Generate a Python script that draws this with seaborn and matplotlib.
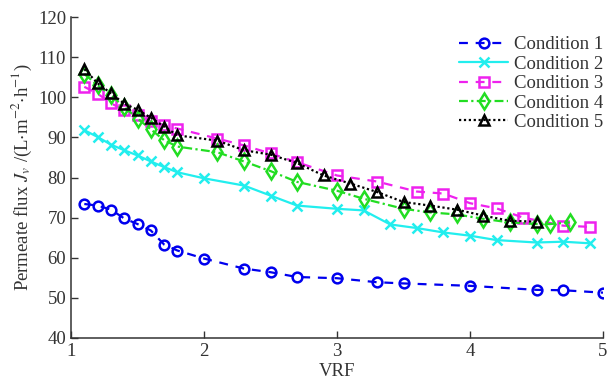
import matplotlib
matplotlib.use("Agg")
import matplotlib.pyplot as plt
import seaborn as sns
import pandas as pd

labels = ["Condition 1", "Condition 2", "Condition 3", "Condition 4", "Condition 5"]

x1 = [1.1, 1.2, 1.3, 1.4, 1.5, 1.6, 1.7, 1.8, 2.0, 2.3, 2.5, 2.7, 3.0, 3.3, 3.5, 4.0, 4.5, 4.7, 5.0]
y1 = [73.4, 73.0, 72.0, 69.8, 68.4, 66.8, 63.3, 61.8, 59.8, 57.3, 56.4, 55.2, 54.9, 53.9, 53.6, 53.0, 52.0, 51.9, 51.3]

x2 = [1.1, 1.2, 1.3, 1.4, 1.5, 1.6, 1.7, 1.8, 2.0, 2.3, 2.5, 2.7, 3.0, 3.2, 3.4, 3.6, 3.8, 4.0, 4.2, 4.5, 4.7, 4.9]
y2 = [91.8, 90.1, 88.2, 86.8, 85.5, 84.0, 82.6, 81.3, 79.8, 78.0, 75.5, 73.0, 72.2, 71.8, 68.3, 67.4, 66.3, 65.5, 64.4, 63.8, 64.0, 63.6]

x3 = [1.1, 1.2, 1.3, 1.4, 1.5, 1.6, 1.7, 1.8, 2.1, 2.3, 2.5, 2.7, 3.0, 3.3, 3.6, 3.8, 4.0, 4.2, 4.4, 4.7, 4.9]
y3 = [102.6, 100.9, 98.5, 96.8, 95.5, 94.0, 93.0, 92.2, 89.7, 88.0, 86.0, 83.8, 80.5, 79.0, 76.5, 76.0, 73.6, 72.3, 70.0, 68.0, 67.7]

x4 = [1.1, 1.2, 1.3, 1.4, 1.5, 1.6, 1.7, 1.8, 2.1, 2.3, 2.5, 2.7, 3.0, 3.2, 3.5, 3.7, 3.9, 4.1, 4.3, 4.5, 4.6, 4.75]
y4 = [105.8, 103.0, 100.5, 97.6, 94.7, 92.0, 89.3, 87.7, 86.3, 84.0, 81.6, 78.9, 76.7, 74.7, 72.2, 71.3, 70.8, 69.7, 68.8, 68.4, 68.4, 68.8]

x5 = [1.1, 1.2, 1.3, 1.4, 1.5, 1.6, 1.7, 1.8, 2.1, 2.3, 2.5, 2.7, 2.9, 3.1, 3.3, 3.5, 3.7, 3.9, 4.1, 4.3, 4.5]
y5 = [107.0, 103.5, 101.0, 98.4, 96.9, 94.9, 92.7, 90.5, 89.2, 86.8, 85.7, 83.6, 80.5, 78.5, 76.4, 73.9, 73.0, 72.0, 70.5, 69.2, 69.0]

xticks = [1, 2, 3, 4, 5]
yticks = [40, 50, 60, 70, 80, 90, 100, 110, 120]

sns.set_theme(style="ticks")
plt.rcParams["font.family"] = ["Liberation Serif", "DejaVu Serif"]
plt.rcParams["mathtext.fontset"] = "stix"

fig = plt.figure(figsize=(6.11, 3.88), dpi=100)
ax = fig.add_axes([71/611, 1 - 338/388, (603-71)/611, (338-17)/388])

styles = [
    dict(color="#0000ee", marker="o", linestyle=(0, (4, 3.5))),
    dict(color="#22eeee", marker="x", linestyle="-"),
    dict(color="#ee22ee", marker="s", linestyle=(0, (4, 3.5))),
    dict(color="#22dd22", marker="d", linestyle=(0, (4, 1.5, 1, 1.5))),
    dict(color="#000000", marker="^", linestyle=(0, (1, 1.2))),
]
series = [(x1, y1), (x2, y2), (x3, y3), (x4, y4), (x5, y5)]

for (xs, ys), lab, st in zip(series, labels, styles):
    df = pd.DataFrame({"VRF": xs, "flux": ys})
    mfc = st["color"] if st["marker"] == "x" else "none"
    sns.lineplot(data=df, x="VRF", y="flux", ax=ax, label=lab, errorbar=None,
                 color=st["color"], marker=st["marker"], linestyle=st["linestyle"],
                 linewidth=1.6, markersize=7.0 if st["marker"] != "d" else 8.0,
                 markerfacecolor=mfc, markeredgecolor=st["color"],
                 markeredgewidth=1.8)

ax.set_xlim(1, 5)
ax.set_ylim(40, 120)
ax.set_xticks(xticks)
ax.set_yticks(yticks)
ax.tick_params(direction="in", length=5, width=1.0, labelsize=13.5, colors="#333333",
               labelcolor="#333333")
for sp in ["top", "right"]:
    ax.spines[sp].set_visible(False)
for sp in ["left", "bottom"]:
    ax.spines[sp].set_color("#333333")
    ax.spines[sp].set_linewidth(1.1)

ax.set_xlabel("VRF", fontsize=13.5, color="#333333", labelpad=2)
ax.set_ylabel(r"Permeate flux $J_v$ /(L$\cdot$m$^{-2}$$\cdot$h$^{-1}$)", fontsize=13.5,
              color="#333333", labelpad=3)

leg = ax.legend(loc="upper right", bbox_to_anchor=(1.0, 0.94), frameon=False,
                fontsize=13.5, handlelength=2.6, handletextpad=0.3,
                labelspacing=0.12, borderaxespad=0.0, borderpad=0.0)
for t in leg.get_texts():
    t.set_color("#333333")

fig.savefig("out.png", dpi=100)
